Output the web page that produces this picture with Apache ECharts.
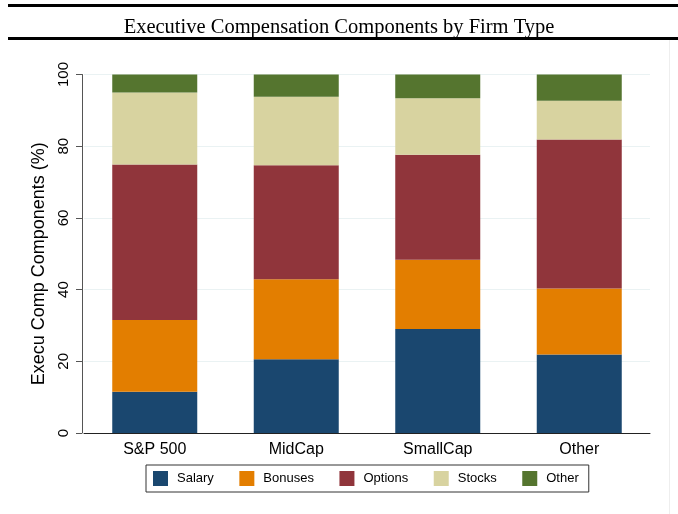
<!DOCTYPE html>
<html>
<head>
<meta charset="utf-8">
<script src="https://cdn.jsdelivr.net/npm/echarts@6/dist/echarts.min.js"></script>
<style>html,body{margin:0;padding:0;background:#fff}#c{width:678px;height:514px}</style>
</head>
<body>
<div id="c"></div>
<script>
const categories = ['S&P 500', 'MidCap', 'SmallCap', 'Other'];
const salary  = [11.5, 20.6, 29.0, 21.9];
const bonuses = [20.0, 22.3, 19.3, 18.4];
const options = [43.4, 31.8, 29.3, 41.6];
const stocks  = [20.1, 19.1, 15.8, 10.8];
const other   = [5.0, 6.2, 6.6, 7.3];
const yTicks = [0, 20, 40, 60, 80, 100];

const seriesDefs = [
  ['Salary', salary, '#1a476f'],
  ['Bonuses', bonuses, '#e37e00'],
  ['Options', options, '#90353b'],
  ['Stocks', stocks, '#d8d3a0'],
  ['Other', other, '#55752f']
];

const chart = echarts.init(document.getElementById('c'));
chart.setOption({
  animation: false,
  backgroundColor: '#fff',
  title: {
    text: 'Executive Compensation Components by Firm Type',
    left: 'center', top: 12,
    textStyle: { fontFamily: 'Liberation Serif', fontWeight: 'normal', fontSize: 20.5, color: '#000' }
  },
  graphic: [
    { type: 'rect', shape: { x: 8, y: 4, width: 670, height: 3 }, style: { fill: '#000' } },
    { type: 'rect', shape: { x: 8, y: 37, width: 670, height: 3 }, style: { fill: '#000' } },
    { type: 'line', shape: { x1: 669.5, y1: 40, x2: 669.5, y2: 514 }, style: { stroke: '#eeeeee', lineWidth: 1 } }
  ],
  grid: { left: 84, right: 28, top: 74.5, bottom: 81, containLabel: false },
  legend: {
    data: seriesDefs.map(d => d[0]),
    left: 146, top: 465,
    padding: [6, 10, 6, 7],
    borderColor: '#333', borderWidth: 1,
    itemWidth: 15, itemHeight: 15, itemGap: 25.5,
    icon: 'rect',
    textStyle: { fontFamily: 'Liberation Sans', fontSize: 13, color: '#000', padding: [0, 0, 0, 4] }
  },
  xAxis: {
    type: 'category', data: categories,
    axisLine: { lineStyle: { color: '#222', width: 1 } },
    axisTick: { show: false },
    axisLabel: { fontFamily: 'Liberation Sans', fontSize: 16, color: '#000', margin: 9 }
  },
  yAxis: {
    type: 'value', min: 0, max: 100, interval: 20, offset: 2,
    name: 'Execu Comp Components (%)', nameLocation: 'middle', nameGap: 27,
    nameTextStyle: { fontFamily: 'Liberation Sans', fontSize: 18, color: '#000', padding: [0, 0, 0, -20] },
    axisLine: { show: true, lineStyle: { color: '#555', width: 1 } },
    axisTick: { show: true, length: 6, lineStyle: { color: '#555' } },
    axisLabel: {
      fontFamily: 'Liberation Sans', fontSize: 15, color: '#000', rotate: 90, margin: 11,
      formatter: v => yTicks.includes(v) ? String(v) : ''
    },
    splitLine: { show: true, lineStyle: { color: '#eaf2f3', width: 1 } }
  },
  series: seriesDefs.map(d => ({
    name: d[0], type: 'bar', stack: 'total', data: d[1], barWidth: 85,
    itemStyle: { color: d[2] }
  }))
});
</script>
</body>
</html>
